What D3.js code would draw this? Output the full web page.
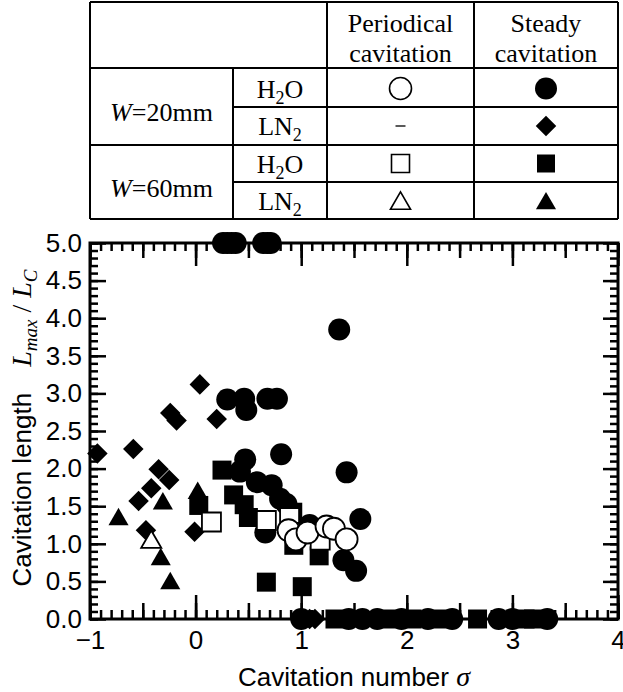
<!DOCTYPE html>
<html>
<head>
<meta charset="utf-8">
<script src="https://cdn.jsdelivr.net/npm/d3@7"></script>
<style>
  body { margin: 0; background: #fff; }
  svg { display: block; }
</style>
</head>
<body>
<svg id="chart" width="623" height="692"></svg>
<script>
// Axis tick labels
const sigmaTickValues = [-1, 0, 1, 2, 3, 4];
const lengthTickValues = [0, 0.5, 1, 1.5, 2, 2.5, 3, 3.5, 4, 4.5, 5];

// [cavitation number sigma, Lmax / Lc]
// W=20mm, H2O, steady cavitation
const w20H2OSteady = [
  [0.26, 5.0], [0.30, 5.0], [0.34, 5.0], [0.38, 5.0], [0.64, 5.0], [0.68, 5.0], [0.71, 5.0],
  [1.36, 3.85],
  [0.30, 2.92], [0.46, 2.93], [0.48, 2.78], [0.68, 2.93], [0.77, 2.93],
  [0.47, 2.12], [0.81, 2.19], [0.42, 1.96], [0.58, 1.82], [0.72, 1.78], [0.80, 1.60],
  [0.86, 1.53], [0.66, 1.15], [1.08, 1.25],
  [1.43, 1.95], [1.56, 1.33], [1.40, 0.78], [1.52, 0.64],
  [1.00, 0], [1.45, 0], [1.58, 0], [1.72, 0], [1.95, 0], [2.20, 0], [2.43, 0],
  [2.87, 0], [3.00, 0], [3.33, 0]
];
// W=20mm, LN2, steady cavitation
const w20LN2Steady = [
  [-0.93, 2.20], [-0.59, 2.26], [0.04, 3.12], [-0.24, 2.74], [-0.18, 2.64], [0.20, 2.66],
  [-0.35, 1.99], [-0.25, 1.85], [-0.42, 1.74], [-0.54, 1.57], [-0.47, 1.18], [-0.01, 1.16],
  [1.08, 0], [1.13, 0]
];
// W=60mm, H2O, steady cavitation
const w60H2OSteady = [
  [0.25, 1.98], [0.36, 1.65], [0.46, 1.52], [0.50, 1.35], [0.03, 1.51],
  [0.92, 1.42], [0.93, 0.98], [1.17, 0.84], [0.67, 0.49], [1.01, 0.43],
  [1.32, 0], [1.85, 0], [2.05, 0], [2.30, 0], [2.67, 0], [3.12, 0], [3.20, 0]
];
// W=60mm, LN2, steady cavitation
const w60LN2Steady = [
  [-0.73, 1.35], [-0.31, 1.56], [-0.33, 0.82], [-0.24, 0.50], [0.02, 1.70]
];
// W=60mm, H2O, periodical cavitation
const w60H2OPeriodic = [
  [0.15, 1.29], [0.67, 1.31], [0.89, 1.35], [1.02, 1.15], [1.18, 1.05]
];
// W=20mm, H2O, periodical cavitation
const w20H2OPeriodic = [
  [0.88, 1.18], [0.95, 1.06], [1.06, 1.15], [1.24, 1.23], [1.31, 1.20], [1.43, 1.06]
];
// W=60mm, LN2, periodical cavitation
const w60LN2Periodic = [
  [-0.42, 1.05]
];

const svg = d3.select("#chart");
const sans = "'Liberation Sans', Arial, sans-serif";
const serif = "'Liberation Serif', 'Times New Roman', serif";

const plot = { left: 90, right: 618, top: 243, bottom: 619 };
const x = d3.scaleLinear().domain([-1, 4]).range([plot.left, plot.right]);
const y = d3.scaleLinear().domain([0, 5]).range([plot.bottom, plot.top]);

// Marker shapes
const shapes = {
  circle: d3.symbol().type(d3.symbolCircle).size(Math.PI * 11 * 11),
  square: d3.symbol().type(d3.symbolSquare).size(19 * 19),
  diamond: d3.symbol().type(d3.symbolSquare).size(14.5 * 14.5),
  triangle: d3.symbol().type(d3.symbolTriangle).size(175)
};

// ---------- Legend table ----------
const tbl = { left: 90, right: 618, c1: 233, c2: 327, c3: 474, top: 2, r0: 68, r1: 107, r2: 145, r3: 182, bottom: 219 };
const tg = svg.append("g").attr("stroke", "#000").attr("stroke-width", 2);
const hLines = [
  [tbl.left, tbl.right, tbl.top], [tbl.left, tbl.right, tbl.r0], [tbl.c1, tbl.right, tbl.r1],
  [tbl.left, tbl.right, tbl.r2], [tbl.c1, tbl.right, tbl.r3], [tbl.left, tbl.right, tbl.bottom]
];
const vLines = [
  [tbl.left, tbl.top, tbl.bottom], [tbl.c1, tbl.r0, tbl.bottom], [tbl.c2, tbl.top, tbl.bottom],
  [tbl.c3, tbl.top, tbl.bottom], [tbl.right, tbl.top, tbl.bottom]
];
tg.selectAll("line.h").data(hLines).join("line").attr("class", "h")
  .attr("x1", d => d[0]).attr("x2", d => d[1]).attr("y1", d => d[2]).attr("y2", d => d[2]);
tg.selectAll("line.v").data(vLines).join("line").attr("class", "v")
  .attr("x1", d => d[0]).attr("x2", d => d[0]).attr("y1", d => d[1]).attr("y2", d => d[2]);

const tt = svg.append("g").attr("font-family", serif).attr("font-size", 26).attr("text-anchor", "middle").attr("fill", "#000");
const colP = (tbl.c2 + tbl.c3) / 2, colS = (tbl.c3 + tbl.right) / 2, colM = (tbl.c1 + tbl.c2) / 2, colW = (tbl.left + tbl.c1) / 2;
tt.append("text").attr("x", colP).attr("y", 32).text("Periodical");
tt.append("text").attr("x", colP).attr("y", 62).text("cavitation");
tt.append("text").attr("x", colS).attr("y", 32).text("Steady");
tt.append("text").attr("x", colS).attr("y", 62).text("cavitation");

function widthLabel(yb, mm) {
  const t = tt.append("text").attr("x", colW).attr("y", yb);
  t.append("tspan").attr("font-style", "italic").text("W");
  t.append("tspan").text("=" + mm);
}
widthLabel(121, "20mm");
widthLabel(197, "60mm");

function fluidLabel(yb, a, sub, b) {
  const t = tt.append("text").attr("x", colM).attr("y", yb);
  t.append("tspan").text(a);
  t.append("tspan").attr("font-size", 18).attr("dy", 6).text(sub);
  if (b) t.append("tspan").attr("dy", -6).text(b);
}
fluidLabel(98, "H", "2", "O");
fluidLabel(135, "LN", "2", "");
fluidLabel(173, "H", "2", "O");
fluidLabel(210, "LN", "2", "");

const rowMid = [(tbl.r0 + tbl.r1) / 2 + 1, (tbl.r1 + tbl.r2) / 2, (tbl.r2 + tbl.r3) / 2, (tbl.r3 + tbl.bottom) / 2 + 1];
const legendRows = [
  { p: "circle", s: "circle" },
  { p: null, s: "diamond" },
  { p: "square", s: "square" },
  { p: "triangle", s: "triangle" }
];
const lg = svg.append("g");
legendRows.forEach((r, i) => {
  if (r.p) {
    lg.append("path").attr("d", (r.p === "square" ? d3.symbol().type(d3.symbolSquare).size(18 * 18) : shapes[r.p])())
      .attr("transform", `translate(${colP},${rowMid[i]})${r.p === "triangle" ? " translate(0,2)" : ""}`)
      .attr("fill", "#fff").attr("stroke", "#000").attr("stroke-width", 1.6);
  } else {
    lg.append("line").attr("x1", colP - 5).attr("x2", colP + 5).attr("y1", rowMid[i]).attr("y2", rowMid[i])
      .attr("stroke", "#000").attr("stroke-width", 1.3);
  }
  lg.append("path").attr("d", (r.s === "square" ? d3.symbol().type(d3.symbolSquare).size(18 * 18) : shapes[r.s])())
    .attr("transform", `translate(${colS},${rowMid[i] + (r.s === "triangle" ? 2 : 0)})${r.s === "diamond" ? " rotate(45)" : ""}`)
    .attr("fill", "#000");
});

// ---------- Axes ----------
const fine = d3.range(-1, 4.0001, 0.1).map(v => +v.toFixed(1));
const half = d3.range(-1, 4.0001, 0.5).map(v => +v.toFixed(1));
const fineY = d3.range(0, 5.0001, 0.1).map(v => +v.toFixed(1));

function styleAxis(g) {
  g.select(".domain").remove();
  g.selectAll(".tick line").attr("stroke", "#000").attr("stroke-width", 2.5);
  g.selectAll(".tick text").attr("font-family", sans).attr("font-size", 26).attr("fill", "#000");
}
const axes = svg.append("g");
// bottom: minor, half and integer ticks pointing inward
axes.append("g").attr("transform", `translate(0,${plot.bottom})`)
  .call(d3.axisBottom(x).tickValues(fine).tickSize(-9).tickFormat("")).call(styleAxis);
axes.append("g").attr("transform", `translate(0,${plot.bottom})`)
  .call(d3.axisBottom(x).tickValues(half).tickSize(-16).tickFormat("")).call(styleAxis);
axes.append("g").attr("transform", `translate(0,${plot.bottom})`)
  .call(d3.axisBottom(x).tickValues(sigmaTickValues).tickSize(-24).tickPadding(12).tickFormat(d3.format("d"))).call(styleAxis);
// top
axes.append("g").attr("transform", `translate(0,${plot.top})`)
  .call(d3.axisTop(x).tickValues(fine).tickSize(-8).tickFormat("")).call(styleAxis);
axes.append("g").attr("transform", `translate(0,${plot.top})`)
  .call(d3.axisTop(x).tickValues(half).tickSize(-15).tickFormat("")).call(styleAxis);
axes.append("g").attr("transform", `translate(0,${plot.top})`)
  .call(d3.axisTop(x).tickValues(sigmaTickValues).tickSize(-23).tickFormat("")).call(styleAxis);
// left
axes.append("g").attr("transform", `translate(${plot.left},0)`)
  .call(d3.axisLeft(y).tickValues(fineY).tickSize(-8).tickFormat("")).call(styleAxis);
axes.append("g").attr("transform", `translate(${plot.left},0)`)
  .call(d3.axisLeft(y).tickValues(lengthTickValues).tickSize(-16).tickPadding(8).tickFormat(d3.format(".1f"))).call(styleAxis);
// right
axes.append("g").attr("transform", `translate(${plot.right},0)`)
  .call(d3.axisRight(y).tickValues(fineY).tickSize(-8).tickFormat("")).call(styleAxis);
axes.append("g").attr("transform", `translate(${plot.right},0)`)
  .call(d3.axisRight(y).tickValues(lengthTickValues).tickSize(-15).tickFormat("")).call(styleAxis);

axes.append("rect").attr("x", plot.left).attr("y", plot.top)
  .attr("width", plot.right - plot.left).attr("height", plot.bottom - plot.top)
  .attr("fill", "none").attr("stroke", "#000").attr("stroke-width", 3);

// ---------- Data markers ----------
const marks = svg.append("g");
function drawSeries(data, shape, filled) {
  marks.append("g").selectAll("path").data(data).join("path")
    .attr("d", shapes[shape]())
    .attr("transform", d => `translate(${x(d[0])},${y(d[1]) + (shape === "triangle" ? 2 : 0)})${shape === "diamond" ? " rotate(45)" : ""}`)
    .attr("fill", filled ? "#000" : "#fff")
    .attr("stroke", "#000")
    .attr("stroke-width", filled ? 0 : 1.8);
}
drawSeries(w20H2OSteady, "circle", true);
drawSeries(w60H2OSteady, "square", true);
drawSeries(w20LN2Steady, "diamond", true);
drawSeries(w60LN2Steady, "triangle", true);
drawSeries(w60H2OPeriodic, "square", false);
drawSeries(w20H2OPeriodic, "circle", false);
drawSeries(w60LN2Periodic, "triangle", false);

// ---------- Axis titles ----------
svg.append("text")
  .attr("x", (plot.left + plot.right) / 2).attr("y", 686)
  .attr("text-anchor", "middle").attr("font-family", sans).attr("font-size", 26)
  .call(t => {
    t.append("tspan").text("Cavitation number ");
    t.append("tspan").attr("font-family", serif).attr("font-style", "italic").attr("font-size", 28).text("σ");
  });

const yt = svg.append("text")
  .attr("transform", `translate(31,428) rotate(-90)`)
  .attr("text-anchor", "middle").attr("font-family", sans).attr("font-size", 26);
yt.append("tspan").text("Cavitation length\u2003");
yt.append("tspan").attr("font-family", serif).attr("font-style", "italic").attr("font-size", 28).text("L");
yt.append("tspan").attr("font-family", serif).attr("font-style", "italic").attr("font-size", 19).attr("dy", 6).text("max");
yt.append("tspan").attr("font-family", serif).attr("font-size", 28).attr("dy", -6).text(" / ");
yt.append("tspan").attr("font-family", serif).attr("font-style", "italic").attr("font-size", 28).text("L");
yt.append("tspan").attr("font-family", serif).attr("font-style", "italic").attr("font-size", 19).attr("dy", 6).text("C");
</script>
</body>
</html>
